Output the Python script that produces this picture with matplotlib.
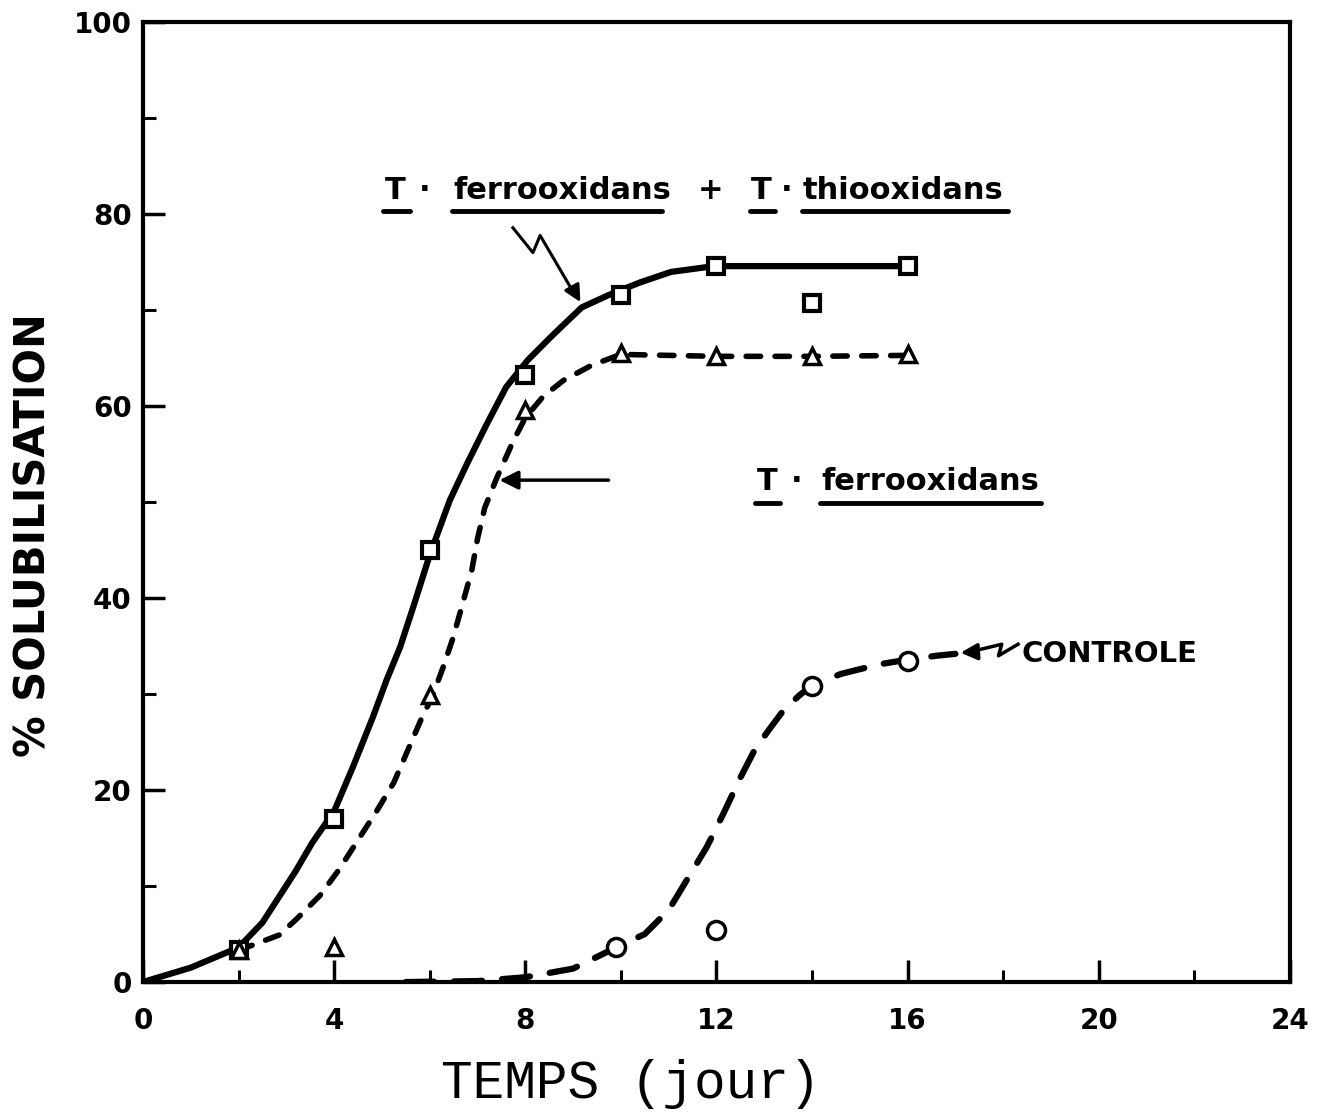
import numpy as np
import matplotlib
matplotlib.use("Agg")
import matplotlib.pyplot as plt
from matplotlib.ticker import MultipleLocator

# measured points
days = [2, 4, 6, 8, 10, 12, 14, 16]
mix_pts = [3.3, 17.0, 45.0, 63.3, 71.6, 74.6, 70.8, 74.6]     # squares
ferro_pts = [3.3, 3.6, 29.9, 59.6, 65.6, 65.2, 65.2, 65.4]    # triangles
ctrl_days = [9.9, 12, 14, 16]
ctrl_pts = [3.6, 5.4, 30.9, 33.5]                             # circles

# hand-drawn fitted curves
mix_cx = [0, 1, 2, 2.5, 2.85, 3.2, 3.54, 4, 4.4, 4.81, 5.1, 5.38, 5.65, 6, 6.42, 6.78, 7.2, 7.6,
          8.05, 8.53, 9.18, 9.75, 10.4, 11.05, 11.8, 12, 16]
mix_cy = [0, 1.5, 3.6, 6.2, 8.9, 11.6, 14.5, 17.8, 22.5, 27.6, 31.5, 34.9, 39, 44.5, 50.2, 54, 58.2, 62,
          64.8, 67.2, 70.3, 71.6, 72.9, 74.0, 74.5, 74.6, 74.6]
ferro_cx = [2, 2.85, 3.2, 3.7, 4.1, 4.5, 4.9, 5.25, 5.84, 6.05, 6.28, 6.49, 6.67, 6.88,
            7.0, 7.15, 7.4, 7.74, 8.0, 8.37, 8.8, 9.4, 10, 12, 14, 16]
ferro_cy = [3.3, 4.9, 6.5, 9, 11.7, 14.8, 17.9, 20.8, 27.6, 29.7, 32.8, 35.9, 39.1, 42.9,
            46.2, 49.4, 52.5, 56.3, 58.8, 61, 62.7, 64.3, 65.4, 65.2, 65.2, 65.3]
ctrl_cx = [5.5, 7, 8, 9, 9.9, 10.5, 11, 11.4, 11.8, 12.15, 12.5, 12.8, 13.1, 13.4, 13.74,
           14, 14.6, 15.4, 16, 16.6, 17.0]
ctrl_cy = [0, 0.1, 0.5, 1.4, 3.6, 5.0, 7.5, 10.8, 14.1, 17.6, 21.3, 24.2, 26.3, 28.3, 29.9,
           30.9, 32.1, 33.1, 33.6, 34.0, 34.2]

fig = plt.figure(figsize=(13.19, 11.19), dpi=100)
ax = fig.add_axes([0.1084, 0.1224, 0.8696, 0.8576])

ax.plot(mix_cx, mix_cy, '-', color='black', lw=4.5, solid_capstyle='round',
        solid_joinstyle='round', zorder=2)
ax.plot(ferro_cx, ferro_cy, color='black', lw=4.0, dashes=(2.6, 2.6),
        dash_capstyle='round', zorder=2)
ax.plot(ctrl_cx, ctrl_cy, color='black', lw=4.5, dashes=(4.5, 3.2),
        dash_capstyle='round', zorder=2)

ax.plot(days, mix_pts, 's', ms=12, mfc='white', mec='black', mew=3, zorder=3, ls='none')
ax.plot(days, ferro_pts, '^', ms=12, mfc='white', mec='black', mew=2.5, zorder=4, ls='none')
ax.plot(ctrl_days, ctrl_pts, 'o', ms=13, mfc='white', mec='black', mew=2.5, zorder=3, ls='none')

# labels with underlines
def word(x, y, s, size=22):
    ax.text(x, y, s, fontsize=size, fontweight='bold',
            ha='left', va='baseline', zorder=5)

def uline(x0, x1, y):
    ax.plot([x0, x1], [y, y], color='black', lw=3.5, solid_capstyle='round', zorder=5)

word(5.06, 81.6, 'T')
word(5.78, 81.6, '\u00b7')
word(6.5, 81.6, 'ferrooxidans')
word(11.6, 81.6, '+')
word(12.72, 81.6, 'T')
word(13.35, 81.6, '\u00b7')
word(13.8, 81.6, 'thiooxidans')
uline(5.02, 5.59, 80.3)
uline(6.46, 10.86, 80.3)
uline(12.7, 13.22, 80.3)
uline(13.79, 18.1, 80.3)

word(12.85, 51.3, 'T')
word(13.55, 51.3, '\u00b7')
word(14.2, 51.3, 'ferrooxidans')
uline(12.8, 13.33, 49.9)
uline(14.16, 18.8, 49.9)

word(18.39, 33.4, 'CONTROLE', size=21)

# arrows
ax.plot([7.74, 8.16, 8.31, 9.05], [78.6, 76.0, 77.8, 71.5], color='black', lw=2.2, zorder=5)
ax.annotate('', xy=(9.18, 70.6), xytext=(9.0, 72.2),
            arrowprops=dict(arrowstyle='-|>', color='black', lw=2.2, mutation_scale=25))
ax.annotate('', xy=(7.4, 52.3), xytext=(9.8, 52.3),
            arrowprops=dict(arrowstyle='-|>', color='black', lw=2.5, mutation_scale=28))
ax.plot([18.31, 17.9, 17.97, 17.3], [35.2, 34.0, 35.2, 34.4], color='black', lw=2.5, zorder=5)
ax.annotate('', xy=(17.05, 34.3), xytext=(17.4, 34.4),
            arrowprops=dict(arrowstyle='-|>', color='black', lw=2.5, mutation_scale=25))

ax.set_xlim(0, 24)
ax.set_ylim(0, 100)
ax.xaxis.set_major_locator(MultipleLocator(4))
ax.xaxis.set_minor_locator(MultipleLocator(2))
ax.yaxis.set_major_locator(MultipleLocator(20))
ax.yaxis.set_minor_locator(MultipleLocator(10))
ax.tick_params(which='major', direction='in', length=16, width=2.5, labelsize=20, pad=8)
ax.tick_params(which='minor', direction='in', length=9, width=2.2)
ax.tick_params(axis='x', which='major', pad=18)
ax.tick_params(axis='y', which='major', pad=8)
for lab in ax.get_xticklabels() + ax.get_yticklabels():
    lab.set_fontweight('bold')
for sp in ax.spines.values():
    sp.set_linewidth(3)

ax.set_ylabel('% SOLUBILISATION', fontsize=30, fontweight='bold')
ax.yaxis.set_label_coords(-0.077, 0.466)
ax.set_xlabel('TEMPS (jour)', fontsize=38, family=['Liberation Mono', 'DejaVu Sans Mono'])
ax.xaxis.set_label_coords(0.425, -0.08)

plt.savefig('out.png', dpi=100)
